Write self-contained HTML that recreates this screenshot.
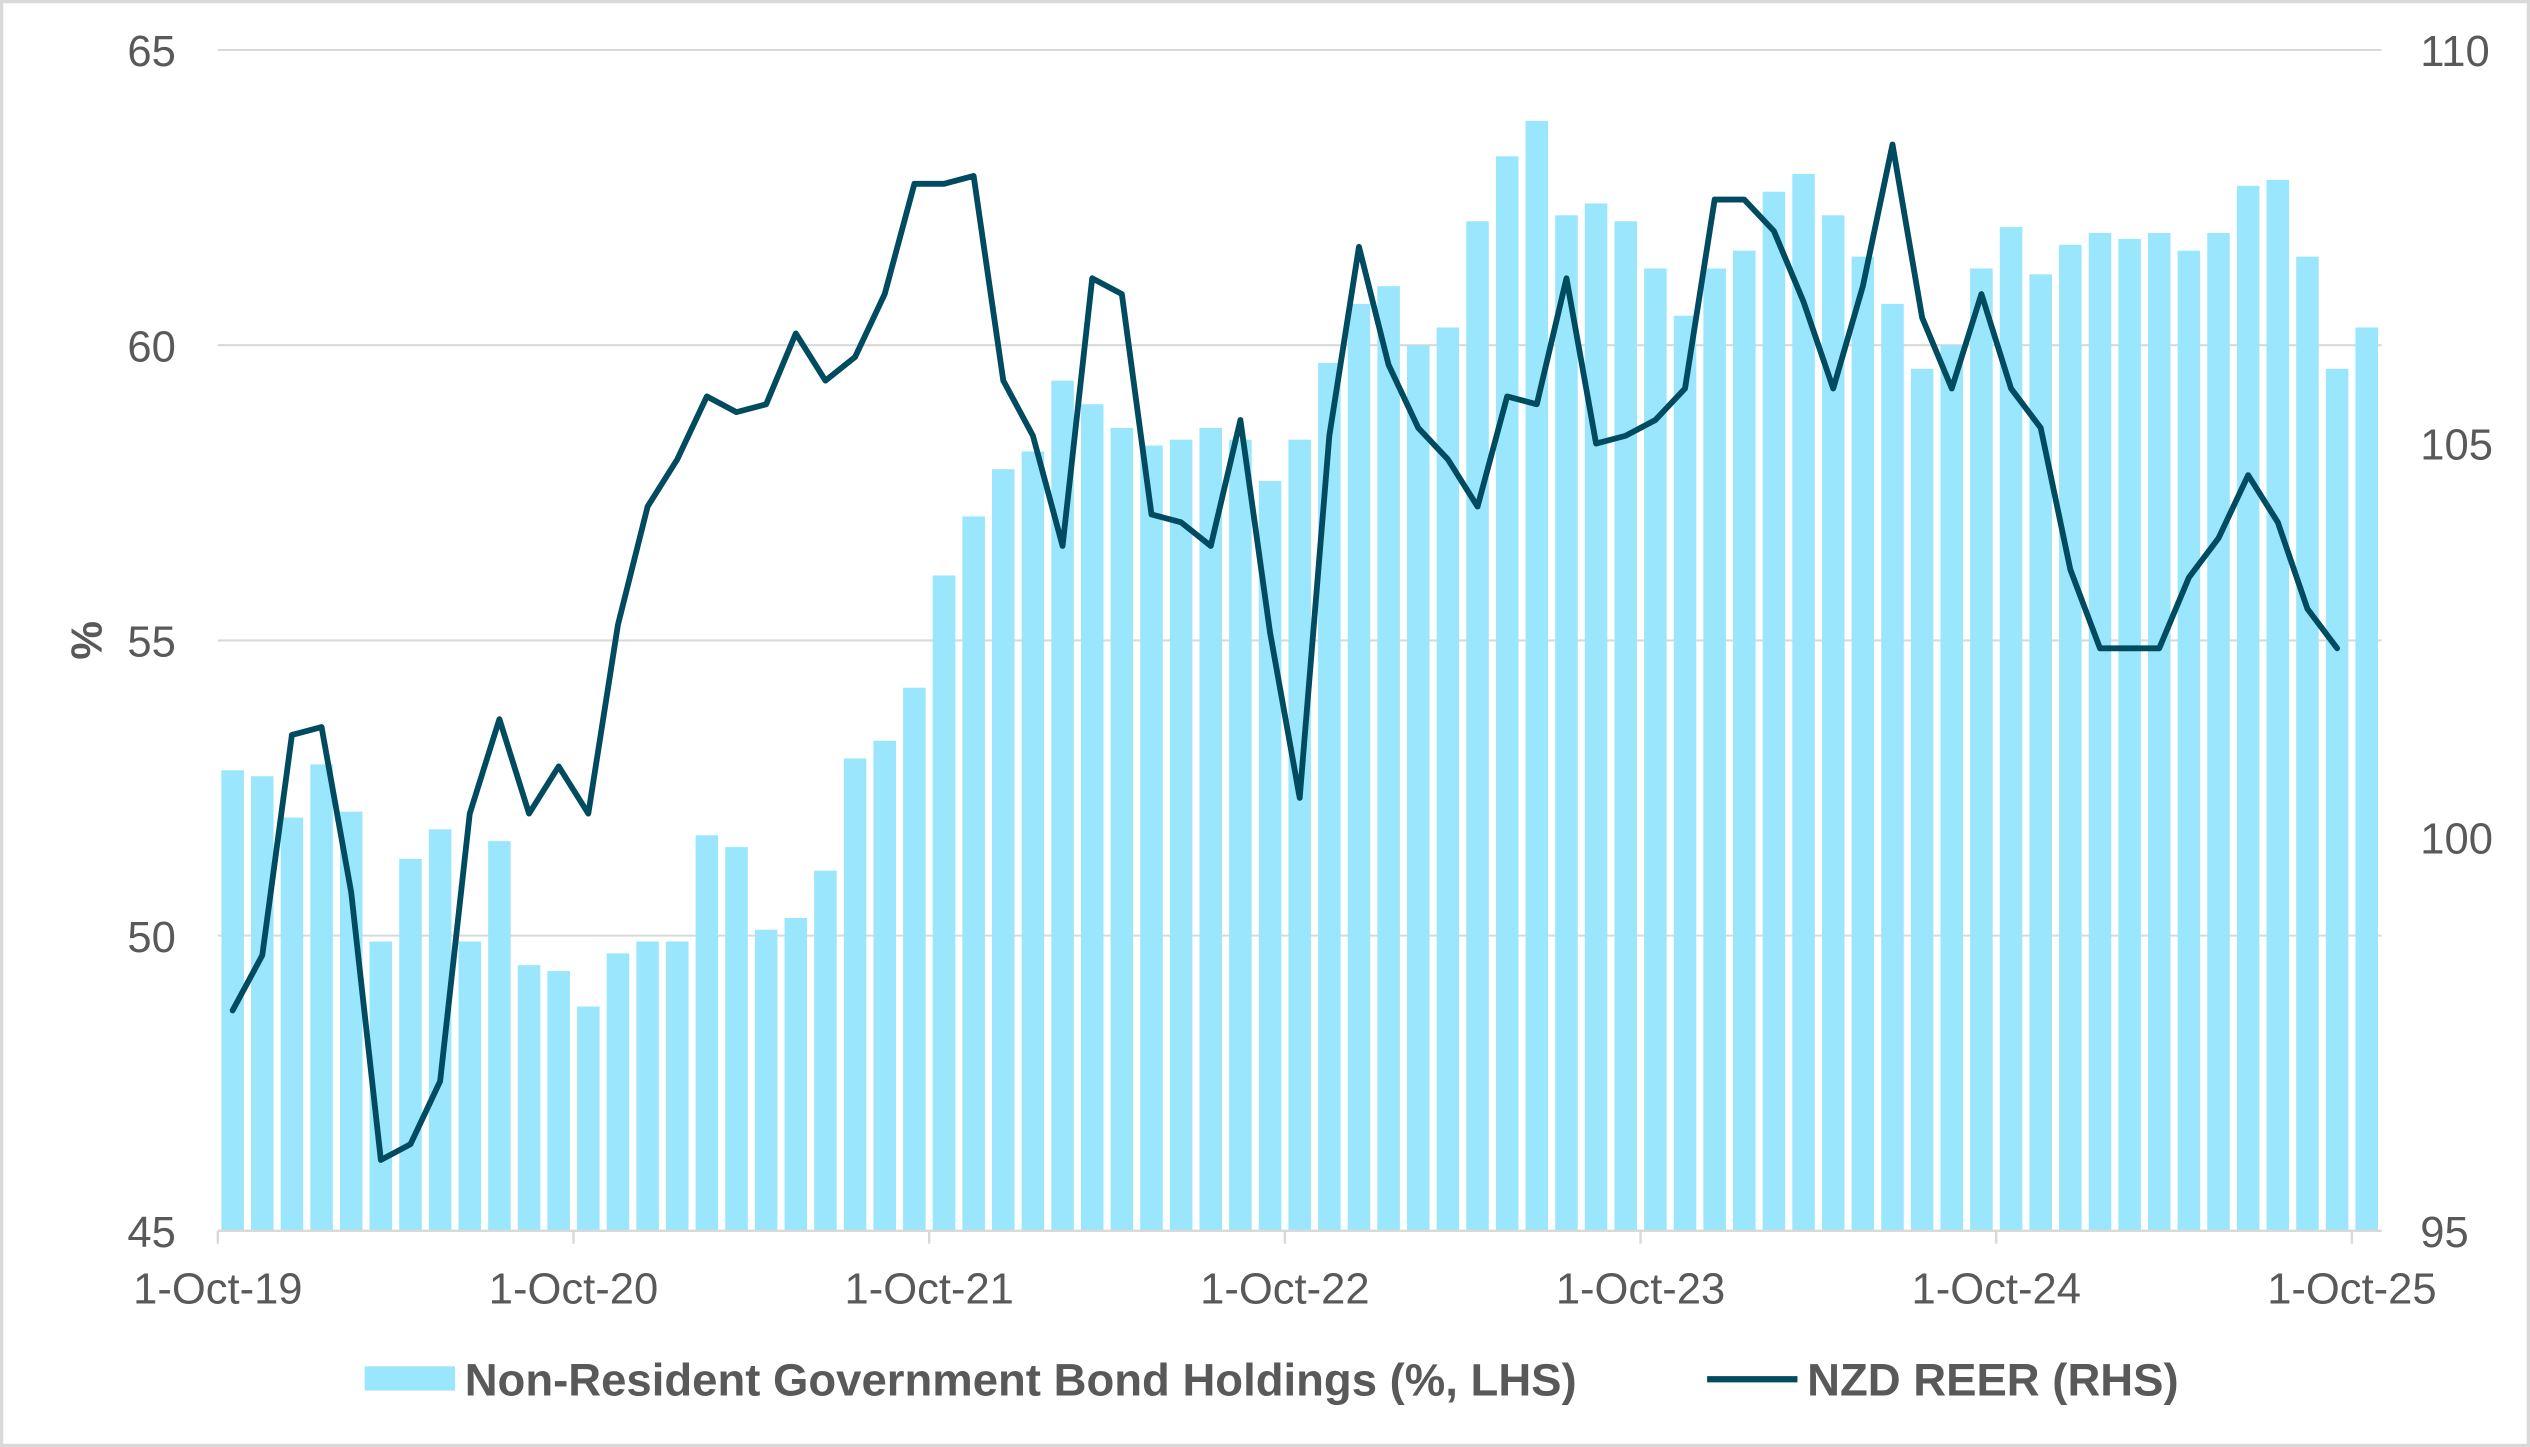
<!DOCTYPE html>
<html><head><meta charset="utf-8"><style>
html,body{margin:0;padding:0;background:#fff;}
svg{display:block;}
text{font-family:"Liberation Sans",Arial,sans-serif;fill:#595959;}
</style></head><body>
<svg id="chart" width="2530" height="1447" viewBox="0 0 1568 897" preserveAspectRatio="none" xmlns="http://www.w3.org/2000/svg">
<rect x="1" y="1" width="1566" height="895" fill="#fff" stroke="#d9d9d9" stroke-width="2"/>
<g id="grid"></g>
<g id="bars"></g>
<g id="axes"></g>
<g id="line"></g>
<text x="0" y="0" transform="translate(63,397) rotate(-90)" text-anchor="middle" font-size="27" font-weight="bold">%</text>
<g>
<g>
<rect x="226" y="847" width="56" height="15" fill="#99e6fd"/>
<text x="288" y="865" font-size="28.2" font-weight="bold">Non-Resident Government Bond Holdings (%, LHS)</text>
</g>
<g>
<line x1="1058" y1="855" x2="1114" y2="855" stroke="#004b5f" stroke-width="3.8"/>
<text x="1120" y="865" font-size="28.2" font-weight="bold">NZD REER (RHS)</text>
</g>
</g>
</svg>
<script>
const bondValues=[52.8,52.7,52.0,52.9,52.1,49.9,51.3,51.8,49.9,51.6,49.5,49.4,48.8,49.7,49.9,49.9,51.7,51.5,50.1,50.3,51.1,53.0,53.3,54.2,56.1,57.1,57.9,58.2,59.4,59.0,58.6,58.3,58.4,58.6,58.4,57.7,58.4,59.7,60.7,61.0,60.0,60.3,62.1,63.2,63.8,62.2,62.4,62.1,61.3,60.5,61.3,61.6,62.6,62.9,62.2,61.5,60.7,59.6,60.0,61.3,62.0,61.2,61.7,61.9,61.8,61.9,61.6,61.9,62.7,62.8,61.5,59.6,60.3];
const reerValues=[97.8,98.5,101.3,101.4,99.3,95.9,96.1,96.9,100.3,101.5,100.3,100.9,100.3,102.7,104.2,104.8,105.6,105.4,105.5,106.4,105.8,106.1,106.9,108.3,108.3,108.4,105.8,105.1,103.7,107.1,106.9,104.1,104.0,103.7,105.3,102.6,100.5,105.1,107.5,106.0,105.2,104.8,104.2,105.6,105.5,107.1,105.0,105.1,105.3,105.7,108.1,108.1,107.7,106.8,105.7,107.0,108.8,106.6,105.7,106.9,105.7,105.2,103.4,102.4,102.4,102.4,103.3,103.8,104.6,104.0,102.9,102.4];
const leftTicks=[45,50,55,60,65];
const rightTicks=[95,100,105,110];
const xTickLabels=["1-Oct-19","1-Oct-20","1-Oct-21","1-Oct-22","1-Oct-23","1-Oct-24","1-Oct-25"];

const NS="http://www.w3.org/2000/svg";
const X0=135,X1=1476,Y0=763,Y1=31;
const n=bondValues.length;
const cw=(X1-X0)/n;
function xC(i){return X0+cw*(i+0.5);}
function yL(v){return Y0-(v-45)/(65-45)*(Y0-Y1);}
function yR(v){return Y0-(v-95)/(110-95)*(Y0-Y1);}
function mk(tag,attrs,parent){const e=document.createElementNS(NS,tag);for(const k in attrs)e.setAttribute(k,attrs[k]);parent.appendChild(e);return e;}
const grid=document.getElementById('grid'),bars=document.getElementById('bars'),axes=document.getElementById('axes'),lineG=document.getElementById('line');
leftTicks.forEach(function(t){
  if(t!==45){const g=mk('line',{x1:X0,x2:X1,y1:yL(t),y2:yL(t),stroke:'#d9d9d9','stroke-width':1.3},grid);
  
  }
  const tx=mk('text',{x:109,y:yL(t)+10,'text-anchor':'end','font-size':27},axes);tx.textContent=t;
  
  
});
rightTicks.forEach(function(t){
  const tx=mk('text',{x:1500,y:yR(t)+10,'text-anchor':'start','font-size':27},axes);tx.textContent=t;
  
  
});
bondValues.forEach(function(v,i){
  const w=cw*0.76;
  const r=mk('rect',{x:xC(i)-w/2,y:yL(v),width:w,height:Y0-yL(v),fill:'#99e6fd'},bars);
  
  
});
const ax=mk('line',{x1:X0,x2:X1,y1:Y0,y2:Y0,stroke:'#d9d9d9','stroke-width':1.5},axes);


xTickLabels.forEach(function(l,k){
  const x=X0+cw*12*k;
  const tk=mk('line',{x1:x,x2:x,y1:Y0,y2:Y0+8,stroke:'#d9d9d9','stroke-width':1.5},axes);
  
  
  const tx=mk('text',{x:x,y:808,'text-anchor':'middle','font-size':27},axes);tx.textContent=l;
  
  
});
const pts=reerValues.map(function(v,i){return xC(i).toFixed(2)+','+yR(v).toFixed(2);}).join(' ');
const pl=mk('polyline',{points:pts,fill:'none',stroke:'#004b5f','stroke-width':3.6,'stroke-linejoin':'round','stroke-linecap':'round'},lineG);


</script>
</body></html>
